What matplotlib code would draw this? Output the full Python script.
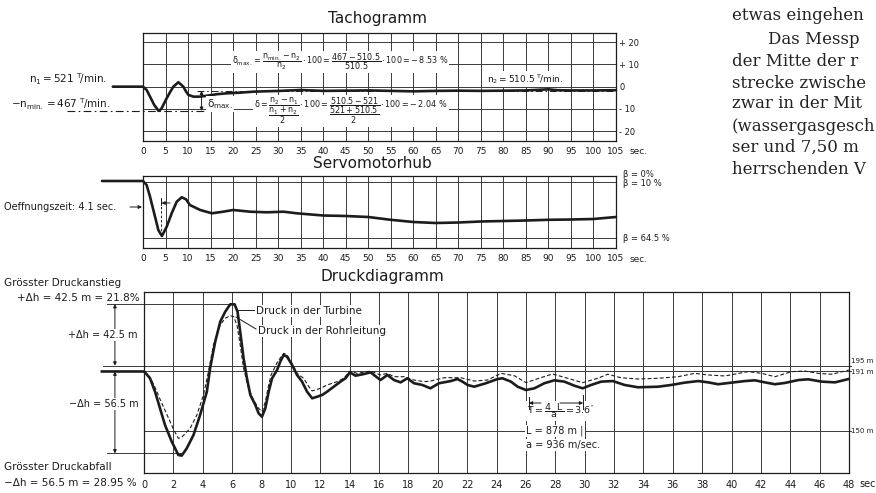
import matplotlib
matplotlib.use("Agg")
import matplotlib.pyplot as plt
from matplotlib import font_manager
from matplotlib.lines import Line2D
from matplotlib.patches import FancyArrowPatch

# ---------------- data ----------------
# Tachogramm: speed deviation (chart units, right scale) vs time [sec]
tacho_t = [-6.7, 0, 0.81, 1.93, 2.5, 3.04, 3.41, 3.7, 4.15, 5.26, 6.0, 6.74, 7.85, 8.96,
           9.5, 10.07, 11.19, 12.67, 14.15, 16.37, 18.6, 21.6, 24.5, 30.4, 35, 40, 45,
           50, 55, 60, 65, 70, 75, 80, 85, 88, 90, 92, 95, 100, 105]
tacho_dev = [0, 0, -1.5, -6.0, -8.3, -9.7, -10.9, -10.7, -9.7, -5.2, -2.5, 0, 2.0, 0,
             -2.0, -3.7, -4.5, -4.5, -4.1, -3.4, -3.0, -2.7, -2.25, -1.9, -1.5, -1.9, -1.8,
             -1.7, -1.9, -2.1, -1.9, -1.8, -1.9, -1.8, -1.7, -1.4, -1.2, -1.6, -1.7, -1.7, -1.6]
tacho_xticks = list(range(0, 110, 5))
tacho_yticks = [20, 10, 0, -10, -20]
tacho_ylabels = ["+ 20", "+ 10", "0", "- 10", "- 20"]
n2_level = -1.8
nmin_level = -10.9

# Servomotorhub: stroke (chart units, 0 = top of frame) vs time [sec]
servo_t = [-9.1, 0, 0.8, 1.56, 2.67, 3.4, 4.2, 5.26, 6.37, 7.48, 8.6, 9.55, 10.4, 12.7,
           15.3, 17.8, 20, 23.8, 27.5, 31.2, 34.1, 40, 45, 50, 55, 60, 65, 70, 75, 80,
           85, 90, 95, 100, 105]
servo_hub = [5, 5, 9, 20.7, 40.7, 54, 60, 50.7, 37.3, 25.7, 21.3, 23.3, 29, 34, 37.3,
             35.7, 34, 35.7, 36.3, 35.7, 37.3, 39.5, 40, 41, 43.8, 46, 47, 46.5, 45.5,
             45, 44.5, 43.8, 43.5, 43, 41]
servo_refs = [6, 62]          # beta = 10 %, beta = 64.5 %
servo_ref_labels = ["\u03b2 = 0%", "\u03b2 = 10 %", "\u03b2 = 64.5 %"]

# Druckdiagramm: pressure head [m] vs time [sec]
turb_t = [-2.87, 0.0, 0.07, 0.41, 0.75, 1.09, 1.43, 1.89, 2.34, 2.57, 2.91, 3.37, 3.82,
          4.28, 4.50, 4.85, 5.19, 5.53, 5.87, 6.17, 6.37, 6.55, 6.78, 7.01, 7.24, 7.58,
          7.80, 8.03, 8.26, 8.49, 8.72, 9.06, 9.28, 9.51, 9.74, 10.08, 10.42, 10.76,
          11.10, 11.45, 11.79, 12.13, 12.47, 12.92, 13.38, 13.72, 14.02, 14.40, 14.86,
          15.43, 15.77, 16.10, 16.57, 17.02, 17.47, 17.93, 18.38, 18.95, 19.50, 20.09,
          20.89, 21.34, 21.68, 22.03, 22.48, 23.28, 24.07, 24.41, 24.98, 25.44, 26.01,
          26.58, 27.26, 27.94, 28.62, 29.30, 29.87, 30.44, 31.13, 31.92, 32.72, 33.63,
          35.00, 35.90, 36.81, 37.73, 38.41, 39.09, 40.00, 40.91, 41.59, 42.27, 42.96,
          43.64, 44.55, 45.23, 46.14, 47.05, 47.97]
turb_h = [191, 191, 190.4, 186.3, 177.1, 165.6, 154.1, 142.6, 133.4, 133.0, 138.0, 147.2,
          161.0, 177.1, 193.2, 211.6, 225.3, 232.2, 237.3, 237.3, 232.2, 218.4, 200.1,
          186.3, 174.8, 167.9, 162.2, 159.8, 165.6, 177.1, 186.3, 192.0, 197.8, 202.4,
          201.2, 195.5, 188.6, 184.0, 177.1, 172.5, 173.6, 174.8, 177.1, 180.5, 184.0,
          186.3, 190.4, 188.1, 189.0, 190.4, 187.7, 185.1, 188.6, 185.1, 183.5, 186.3,
          182.9, 181.7, 179.4, 182.9, 184.4, 185.8, 184.0, 181.7, 180.5, 182.9, 185.8,
          186.3, 184.0, 180.5, 178.2, 179.4, 182.9, 184.9, 184.0, 181.2, 179.4, 181.7,
          184.0, 184.4, 181.7, 180.1, 180.5, 181.7, 183.3, 184.4, 183.5, 182.2, 183.3,
          184.4, 184.9, 183.5, 182.2, 183.1, 185.1, 185.6, 184.0, 183.5, 185.8]
pipe_t = [0.0, 0.41, 0.75, 1.09, 1.6, 2.0, 2.34, 2.6, 3.14, 3.6, 4.05, 4.39, 4.73, 5.19,
          5.53, 5.87, 6.1, 6.33, 6.55, 6.78, 7.12, 7.46, 7.80, 8.03, 8.26, 8.49, 8.65,
          9.1, 9.51, 9.74, 10.08, 10.42, 10.87, 11.22, 11.45, 12.02, 12.47, 13.15, 13.60,
          14.02, 14.5, 15.43, 16.1, 16.57, 17.02, 17.70, 18.38, 19.06, 19.52, 20.43,
          21.57, 22.48, 23.39, 24.30, 25.21, 26.01, 26.80, 27.82, 28.84, 29.87, 30.89,
          31.57, 32.48, 33.63, 35.00, 36.36, 37.50, 38.41, 39.55, 41.14, 42.05, 42.96,
          44.10, 45.00, 45.91, 46.82, 47.73, 48.0]
pipe_h = [191, 187, 180, 171.9, 160.4, 151.3, 144.9, 146, 151.8, 161, 174.8, 190.9, 209.3,
          223.1, 227.7, 229.5, 228.8, 223.1, 209.3, 193.2, 179.4, 171.3, 165.6, 163.3,
          170, 181.6, 188.6, 197.8, 203.5, 202.4, 196.6, 189.7, 186.3, 180.5, 177.6,
          179.4, 181.7, 184, 186.3, 191.3, 189.7, 191.3, 188.6, 189.7, 187.4, 187.4,
          185.1, 184, 184.4, 186.7, 186.7, 184.4, 185.1, 189.7, 188.1, 183.3, 186.0,
          189.3, 186.3, 183.3, 186.3, 189.1, 186.7, 185.8, 186.3, 187.4, 189.7, 188.6,
          187.9, 190.9, 189.7, 187.4, 190.9, 191.3, 189.7, 189.1, 191.3, 192]
druck_xticks = list(range(0, 50, 2))
druck_refs = [195, 191, 150]
druck_ref_labels = ["195 m", "191 m", "150 m"]
h_static = 191
h_max = 237.5
h_min = 134.5
period_start, period_end = 26.2, 29.9

body_lines = ["etwas eingehen", "Das Messp", "der Mitte der r", "strecke zwische",
              "zwar in der Mit", "(wassergasgesch", "ser und 7,50 m", "herrschenden V"]

# ---------------- style ----------------
W, H = 876, 493
INK = "#1c1c1c"
GRID = "#3a3a3a"
names = {f.name for f in font_manager.fontManager.ttflist}
SANS = "Liberation Sans Narrow" if "Liberation Sans Narrow" in names else "DejaVu Sans"
NARROW = SANS == "Liberation Sans Narrow"
SERIF = "DejaVu Serif"
plt.rcParams["font.family"] = [SANS, "DejaVu Sans"]
plt.rcParams["mathtext.fontset"] = "custom"
plt.rcParams["mathtext.rm"] = SANS
plt.rcParams["mathtext.it"] = SANS
plt.rcParams["mathtext.bf"] = SANS
plt.rcParams["text.color"] = INK

def fs(s):
    return s * 1.12 if NARROW else s

fig = plt.figure(figsize=(W / 100, H / 100), dpi=100, facecolor="white")

def add_ax(l, t, r, b):
    return fig.add_axes([l / W, 1 - b / H, (r - l) / W, (b - t) / H])

def T(x, y, s, size=7, ha="left", va="center", box=False, **kw):
    bb = dict(facecolor="white", edgecolor="none", pad=0.6) if box else None
    return fig.text(x / W, 1 - y / H, s, fontsize=fs(size), ha=ha, va=va, bbox=bb,
                    color=INK, zorder=6, **kw)

def L(xs, ys, lw=0.7, z=5, **kw):
    fig.add_artist(Line2D([x / W for x in xs], [1 - y / H for y in ys],
                          transform=fig.transFigure, color=INK, lw=lw, zorder=z, **kw))

def A(x1, y1, x2, y2, style="-|>", z=7):
    fig.add_artist(FancyArrowPatch((x1 / W, 1 - y1 / H), (x2 / W, 1 - y2 / H),
                                   transform=fig.transFigure, arrowstyle=style,
                                   mutation_scale=5, lw=0.7, color=INK, zorder=z,
                                   shrinkA=0, shrinkB=0))

def frame(ax):
    for sp in ax.spines.values():
        sp.set_color(INK)
        sp.set_linewidth(0.9)
    ax.set_facecolor("none")

ARW = dict(mutation_scale=5, lw=0.7, color=INK, shrinkA=0, shrinkB=0)

# ---------------- Tachogramm ----------------
ax1 = add_ax(143, 33, 616, 141)
frame(ax1)
ax1.set_xlim(0, 105)
ax1.set_ylim(-24.5, 24.2)
ax1.set_xticks(tacho_xticks)
ax1.set_xticklabels([str(v) for v in tacho_xticks])
ax1.yaxis.tick_right()
ax1.set_yticks(tacho_yticks)
ax1.set_yticklabels(tacho_ylabels)
ax1.tick_params(axis="x", length=0, pad=4, labelsize=fs(6.5), colors=INK)
ax1.tick_params(axis="y", length=0, pad=2.5, labelsize=fs(6), colors=INK)
ax1.grid(True, color=GRID, lw=0.7)
ax1.set_axisbelow(True)
ax1.plot(tacho_t, tacho_dev, color=INK, lw=1.9, clip_on=False, zorder=4,
         solid_capstyle="round")
ax1.plot([-16.9, 14.2], [nmin_level, nmin_level], color=INK, lw=0.8,
         dashes=[7, 3, 1.5, 3], clip_on=False, zorder=3)
ax1.plot([12, 105], [n2_level, n2_level], color=INK, lw=0.7,
         dashes=[7, 3, 1.5, 3], zorder=3)
ax1.annotate("", xy=(13, nmin_level), xytext=(13, n2_level),
             arrowprops=dict(arrowstyle="<|-|>", **ARW))
T(378, 19, "Tachogramm", size=11, ha="center")
T(630, 151, "sec.", size=6.5)
T(107, 79, r"$n_1 = 521\ ^{T}\!/\mathrm{min.}$", size=7.5, ha="right")
T(110, 104, r"$-n_{min.} = 467\ ^{T}\!/\mathrm{min.}$", size=7.5, ha="right")
T(207, 104, r"$\delta_{max.}$", size=7.5, box=True)
T(340, 62, r"$\delta_{max.}=\dfrac{n_{min.}-n_2}{n_2}\cdot 100=\dfrac{467-510.5}{510.5}\cdot 100=-\,8.53\ \%$",
  size=5.8, ha="center", box=True)
T(351, 111, r"$\delta=\dfrac{n_2-n_1}{\dfrac{n_1+n_2}{2}}\cdot 100=\dfrac{510.5-521}{\dfrac{521+510.5}{2}}\cdot 100=-\,2.04\ \%$",
  size=5.8, ha="center", box=True)
T(525, 79, r"$n_2 = 510.5\ ^{T}\!/\mathrm{min.}$", size=6.5, ha="center", box=True)

# ---------------- Servomotorhub ----------------
ax2 = add_ax(143, 176, 616, 248)
frame(ax2)
ax2.set_xlim(0, 105)
ax2.set_ylim(72, 0)
ax2.set_xticks(tacho_xticks)
ax2.set_xticklabels([str(v) for v in tacho_xticks])
ax2.set_yticks([])
ax2.tick_params(axis="x", length=0, pad=4, labelsize=fs(6.5), colors=INK)
ax2.grid(True, axis="x", color=GRID, lw=0.7)
ax2.set_axisbelow(True)
for r in servo_refs:
    ax2.axhline(r, color=GRID, lw=0.7, zorder=1)
ax2.plot(servo_t, servo_hub, color=INK, lw=1.9, clip_on=False, zorder=4,
         solid_capstyle="round")
ax2.plot([4.1, 4.1], [26, 60], color=INK, lw=0.7, dashes=[2.5, 2], zorder=3)
ax2.plot([4.1, 4.1], [22, 29], color=INK, lw=0.7, zorder=3)
ax2.annotate("", xy=(4.1, 27), xytext=(6.0, 27), arrowprops=dict(arrowstyle="-|>", **ARW))
T(372, 164, "Servomotorhub", size=11, ha="center")
T(630, 259, "sec.", size=6.5)
T(623, 175, servo_ref_labels[0], size=6)
T(623, 184, servo_ref_labels[1], size=6)
T(623, 238, servo_ref_labels[2], size=6)
T(4, 207, "Oeffnungszeit: 4.1 sec.", size=7)
A(130, 207, 142, 207)

# ---------------- Druckdiagramm ----------------
ax3 = add_ax(144, 292, 849, 473)
frame(ax3)
ax3.set_xlim(0, 48)
ax3.set_ylim(121, 245.8)
ax3.set_xticks(druck_xticks)
ax3.set_xticklabels([str(v) for v in druck_xticks])
ax3.set_yticks([])
ax3.tick_params(axis="x", length=0, pad=5, labelsize=fs(7), colors=INK)
ax3.grid(True, axis="x", color=GRID, lw=0.7)
ax3.set_axisbelow(True)
ax3.plot([-2.8, 48.15], [druck_refs[0]] * 2, color=GRID, lw=0.7, clip_on=False, zorder=1)
ax3.plot([0, 48.15], [druck_refs[1]] * 2, color=GRID, lw=0.7, clip_on=False, zorder=1)
ax3.plot([0, 48.15], [druck_refs[2]] * 2, color=GRID, lw=0.7, clip_on=False, zorder=1)
ax3.plot([-2.53, 6.2], [h_max, h_max], color=GRID, lw=0.7, clip_on=False, zorder=1)
ax3.plot([-2.53, 2.6], [h_min, h_min], color=GRID, lw=0.7, clip_on=False, zorder=1)
ax3.plot(pipe_t, pipe_h, color=INK, lw=0.8, dashes=[3.5, 2], zorder=3)
ax3.plot(turb_t, turb_h, color=INK, lw=1.9, clip_on=False, zorder=4,
         solid_joinstyle="round")
xd = -1.98
ax3.annotate("", xy=(xd, h_max), xytext=(xd, 195), annotation_clip=False,
             arrowprops=dict(arrowstyle="<|-|>", **ARW))
ax3.annotate("", xy=(xd, h_min), xytext=(xd, h_static), annotation_clip=False,
             arrowprops=dict(arrowstyle="<|-|>", **ARW))
T(382, 276, "Druckdiagramm", size=11, ha="center")
T(4, 283, "Grösster Druckanstieg", size=7.5)
T(17, 298, "+\u0394h = 42.5 m = 21.8%", size=7.5)
T(103, 335, "+\u0394h = 42.5 m", size=7, ha="center", box=True)
T(104, 404, "\u2212\u0394h = 56.5 m", size=7, ha="center", box=True)
T(4, 467, "Grösster Druckabfall", size=7.5)
T(4, 483, "\u2212\u0394h = 56.5 m = 28.95 %", size=7.5)
L([237, 255], [310, 310])
T(256, 311, "Druck in der Turbine", size=7.5, box=True)
L([236, 256], [317, 329])
T(258, 331, "Druck in der Rohrleitung", size=7.5, box=True)
T(851, 361, druck_ref_labels[0], size=5)
T(851, 372, druck_ref_labels[1], size=5)
T(851, 431, druck_ref_labels[2], size=5)
T(859, 484, "sec", size=7)
# period T = 4L/a, arrows along the numerator between t = 26.2 and 29.9 sec
x_ps = 144 + (705 / 48) * period_start
x_pe = 144 + (705 / 48) * period_end
T(561, 411, r"$T=\dfrac{4\ \ L}{a}=3.6''$", size=6.8, ha="center", box=True)
A(541, 403, x_ps, 403)
A(560, 403, x_pe, 403)
L([x_ps, x_ps], [397, 409], z=7)
L([x_pe, x_pe], [395, 409], z=7)
T(555, 431, "L = 878 m |", size=7, ha="center", box=True)
T(563, 445, "a = 936 m/sec.", size=7, ha="center", box=True)

# ---------------- body text (page) ----------------
ys = [15, 40, 62, 83, 104, 126, 147, 169]
for i, (s, y) in enumerate(zip(body_lines, ys)):
    x = 768 if i == 1 else 732
    fig.text(x / W, 1 - y / H, s, fontsize=12, family=SERIF, ha="left",
             va="center", color="#222222")

fig.savefig("out.png", dpi=100, facecolor="white")
